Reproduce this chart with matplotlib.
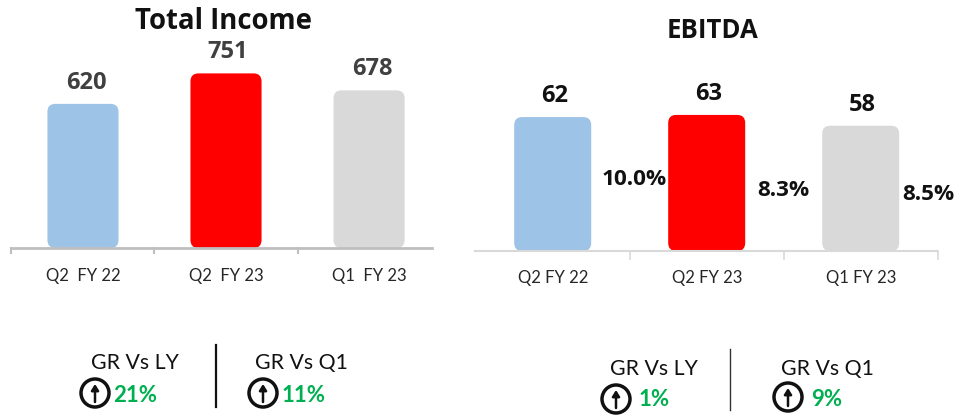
import matplotlib
matplotlib.use("Agg")
import matplotlib.pyplot as plt
from matplotlib.patches import FancyBboxPatch, Circle

categories_left = ["Q2  FY 22", "Q2  FY 23", "Q1  FY 23"]
categories_right = ["Q2 FY 22", "Q2 FY 23", "Q1 FY 23"]
total_income = [620, 751, 678]
ebitda = [62, 63, 58]
margins = ["10.0%", "8.3%", "8.5%"]
bar_colors = ["#9DC3E6", "#FF0000", "#D9D9D9"]

W, H = 955, 417
fig = plt.figure(figsize=(W / 100, H / 100), dpi=100, facecolor="white")
FONT = "Lato"
TITLE_FONT = "Open Sans"


def make_axes(x0, x1, y0, y1):
    return fig.add_axes([x0 / W, 1 - y1 / H, (x1 - x0) / W, (y1 - y0) / H])


def rounded_bars(ax, values, width, radius_px):
    bb = ax.get_window_extent()
    xmin, xmax = ax.get_xlim()
    ymin, ymax = ax.get_ylim()
    px_x = bb.width / (xmax - xmin)
    px_y = bb.height / (ymax - ymin)
    for i, v in enumerate(values):
        ax.add_patch(FancyBboxPatch(
            (i - width / 2, 0), width, v,
            boxstyle=f"round,pad=0,rounding_size={radius_px / px_x}",
            mutation_aspect=px_x / px_y,
            fc=bar_colors[i], ec="none", zorder=2, clip_on=False))


def style_axis(ax, color, labels, fs, lw, pad):
    for s in ["top", "left", "right"]:
        ax.spines[s].set_visible(False)
    ax.spines["bottom"].set_color(color)
    ax.spines["bottom"].set_linewidth(lw)
    ax.set_yticks([])
    ax.set_xticks(range(3))
    ax.set_xticklabels(labels, fontsize=fs, family=FONT, color="#262626")
    ax.tick_params(axis="x", length=0, pad=pad)
    ax.patch.set_alpha(0)


# Left chart: Total Income
axL = make_axes(11, 432, 60, 248)
axL.set_xlim(-0.503, 2.44)
axL.set_ylim(0, 188 / 0.2325)
style_axis(axL, "#BFBFBF", categories_left, 12, 2, 14.5)
rounded_bars(axL, total_income, 0.497, 8)
for tx in (-0.5, 0.5, 1.5):
    axL.plot([tx, tx], [0, -20], color="#BFBFBF", lw=1.5, clip_on=False)
for i, v in enumerate(total_income):
    axL.annotate(str(v), (i, v), xytext=(3 if i != 1 else 2, 9), textcoords="offset pixels",
                 ha="center", va="bottom", fontsize=17, fontweight="bold",
                 family=TITLE_FONT, color="#404040")

# Right chart: EBITDA
axR = make_axes(475, 937, 60, 251)
axR.set_xlim((475 - 552.7) / 154, (937 - 552.7) / 154)
axR.set_ylim(0, 191 / 2.16)
style_axis(axR, "#D9D9D9", categories_right, 12, 1.5, 13.5)
rounded_bars(axR, ebitda, 0.5, 8)
for tx in (0.5, 1.5, 2.5):
    axR.plot([tx, tx], [0, -3.5], color="#D9D9D9", lw=1.2, clip_on=False)
for i, v in enumerate(ebitda):
    axR.annotate(str(v), (i, v), xytext=(1.5, 9), textcoords="offset pixels",
                 ha="center", va="bottom", fontsize=17, fontweight="bold",
                 family=TITLE_FONT, color="#111111")

# Overlay in pixel coordinates for titles and callouts
ov = fig.add_axes([0, 0, 1, 1])
ov.set_xlim(0, W)
ov.set_ylim(H, 0)
ov.axis("off")
ov.patch.set_alpha(0)

ov.text(223, 21, "Total Income", ha="center", va="center", fontsize=19.8,
        fontweight="bold", family=TITLE_FONT, color="#111111")
ov.text(712, 30, "EBITDA", ha="center", va="center", fontsize=18.5,
        fontweight="bold", family=TITLE_FONT, color="#111111")

for x, y, t in [(634, 179, margins[0]), (783.5, 190, margins[1]), (928, 194, margins[2])]:
    ov.text(x, y, t, ha="center", va="center", fontsize=16.2, fontweight="bold",
            family=TITLE_FONT, color="#111111")

callouts = [
    (135, 363, "GR Vs LY", 95, 393, 135, 395, "21%"),
    (301, 363, "GR Vs Q1", 263, 393, 304, 395, "11%"),
    (654, 369, "GR Vs LY", 616, 399, 654, 400, "1%"),
    (827, 369, "GR Vs Q1", 788, 397, 827, 400, "9%"),
]
for lx, ly, lab, cx, cy, px, py, pct in callouts:
    ov.text(lx, ly, lab, ha="center", va="center", fontsize=15.3, family=FONT, color="#111111")
    ov.add_patch(Circle((cx, cy), 14, fc="white", ec="#111111", lw=2.5))
    ov.annotate("", xy=(cx, cy - 9), xytext=(cx, cy + 9),
                arrowprops=dict(arrowstyle="-|>,head_width=0.22,head_length=0.35",
                                color="#111111", lw=1.8, shrinkA=0, shrinkB=0))
    ov.text(px, py, pct, ha="center", va="center", fontsize=16, fontweight="bold",
            family=FONT, color="#00B050")

ov.plot([216, 216], [345, 407], color="#111111", lw=1.6)
ov.plot([730, 730], [349, 410], color="#333333", lw=1.0)

fig.savefig("out.png", dpi=100)
